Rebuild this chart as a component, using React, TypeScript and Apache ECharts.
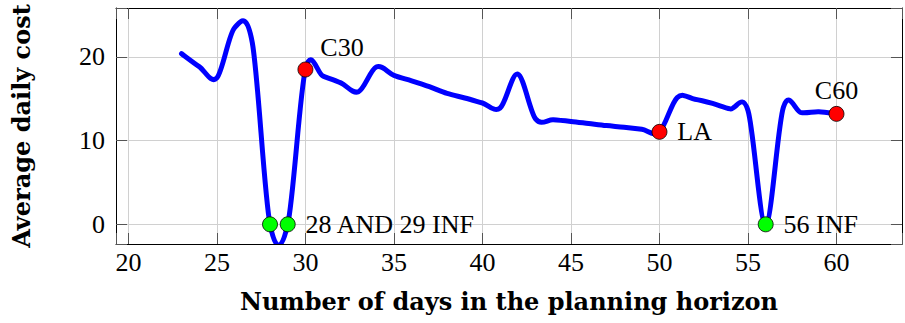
import React, { useEffect, useRef } from "react";
import * as echarts from "echarts";

// Days of the planning horizon and the plotted average daily cost
const days = [
  23, 24, 25, 26, 27, 28, 29, 30, 31, 32, 33, 34, 35, 36, 37, 38, 39, 40, 41,
  42, 43, 44, 45, 46, 47, 48, 49, 50, 51, 52, 53, 54, 55, 56, 57, 58, 59, 60,
];
const costs = [
  20.4, 18.85, 17.5, 23.5, 21.7, 0, 0, 18.5, 17.7, 16.9, 15.85, 18.8, 17.8,
  17.15, 16.45, 15.65, 15.1, 14.5, 13.9, 17.95, 12.6, 12.5, 12.3, 12.05, 11.8,
  11.6, 11.35, 11.05, 15.15, 14.95, 14.45, 13.8, 13.6, 0, 14.0, 13.35, 13.45,
  13.2,
];

// Highlighted points
const markerDays = [28, 29, 30, 50, 56, 60];
const markerLabels = ["", "28 AND 29 INF", "C30", "LA", "56 INF", "C60"];
const markerInfeasible = [true, true, false, false, true, false];

// Tick labels
const xTicks = [20, 25, 30, 35, 40, 45, 50, 55, 60];
const yTicks = [0, 10, 20];

const xTitle = "Number of days in the planning horizon";
const yTitle = "Average daily cost";

const SERIF = '"Liberation Serif", "Times New Roman", serif';
const BOLD_SERIF = '"DejaVu Serif", serif';

const X_MIN = 19.3;
const X_MAX = 63.7;
const Y_MIN = -2.35;
const Y_MAX = 25.85;

const TENSION = 0.165;

function tickFormatter(list: number[]) {
  return (v: number) =>
    list.some((t) => Math.abs(t - v) < 1e-6) ? String(Math.round(v)) : "";
}

function labelFor(name: string): any {
  if (name === "C30") return { position: "right", distance: 7, offset: [0, -22] };
  if (name === "C60") return { position: "top", distance: 2 };
  return { position: "right", distance: 10 };
}

export default function App() {
  const ref = useRef<HTMLDivElement>(null);

  useEffect(() => {
    if (!ref.current) return;
    const chart = echarts.init(ref.current, null, { renderer: "svg" });

    const axisLine = {
      show: true,
      onZero: false,
      lineStyle: { color: "#000", width: 1 },
    };
    const axisTick = {
      show: true,
      inside: true,
      length: 11,
      lineStyle: { color: "#555", width: 1 },
    };
    const splitLine = { show: true, lineStyle: { color: "#d0d0d0", width: 1 } };

    const option: any = {
      animation: false,
      backgroundColor: "#fff",
      grid: { left: 116, right: 2, top: 8, bottom: 79, containLabel: false },
      xAxis: [
        {
          type: "value",
          position: "bottom",
          min: X_MIN,
          max: X_MAX,
          splitNumber: 9,
          minInterval: 5,
          maxInterval: 5,
          axisLine,
          axisTick,
          splitLine,
          axisLabel: {
            formatter: tickFormatter(xTicks),
            fontFamily: SERIF,
            fontSize: 26,
            color: "#000",
            margin: 5,
          },
          name: xTitle,
          nameLocation: "middle",
          nameGap: 45,
          nameTextStyle: {
            fontFamily: BOLD_SERIF,
            fontWeight: "bold",
            fontSize: 24,
            color: "#000",
          },
        },
        {
          type: "value",
          position: "top",
          min: X_MIN,
          max: X_MAX,
          splitNumber: 9,
          minInterval: 5,
          maxInterval: 5,
          axisLine,
          axisTick,
          splitLine: { show: false },
          axisLabel: { show: false },
        },
      ],
      yAxis: [
        {
          type: "value",
          position: "left",
          min: Y_MIN,
          max: Y_MAX,
          splitNumber: 3,
          minInterval: 10,
          maxInterval: 10,
          axisLine,
          axisTick,
          splitLine,
          axisLabel: {
            formatter: tickFormatter(yTicks),
            fontFamily: SERIF,
            fontSize: 26,
            color: "#000",
            margin: 11,
          },
          name: yTitle,
          nameLocation: "middle",
          nameGap: 83,
          nameTextStyle: {
            fontFamily: BOLD_SERIF,
            fontWeight: "bold",
            fontSize: 24,
            color: "#000",
          },
        },
        {
          type: "value",
          position: "right",
          min: Y_MIN,
          max: Y_MAX,
          splitNumber: 3,
          minInterval: 10,
          maxInterval: 10,
          axisLine,
          axisTick,
          splitLine: { show: false },
          axisLabel: { show: false },
        },
      ],
      series: [
        {
          type: "custom",
          xAxisIndex: 0,
          yAxisIndex: 0,
          silent: true,
          z: 2,
          data: days.map((d, i) => [d, costs[i]]),
          renderItem: (params: any, api: any) => {
            if (params.dataIndex !== 0) return null;
            const pts = days.map((d, i) => api.coord([d, costs[i]]));
            const n = pts.length;
            let d = `M${pts[0][0]},${pts[0][1]}`;
            for (let i = 0; i < n - 1; i++) {
              const p0 = pts[Math.max(i - 1, 0)];
              const p1 = pts[i];
              const p2 = pts[i + 1];
              const p3 = pts[Math.min(i + 2, n - 1)];
              const c1x = p1[0] + TENSION * (p2[0] - p0[0]);
              const c1y = p1[1] + TENSION * (p2[1] - p0[1]);
              const c2x = p2[0] - TENSION * (p3[0] - p1[0]);
              const c2y = p2[1] - TENSION * (p3[1] - p1[1]);
              d += ` C${c1x},${c1y} ${c2x},${c2y} ${p2[0]},${p2[1]}`;
            }
            const cs = params.coordSys;
            return {
              type: "group",
              clipPath: {
                type: "rect",
                shape: { x: cs.x, y: cs.y, width: cs.width, height: cs.height },
              },
              children: [
                {
                  type: "path",
                  shape: { pathData: d },
                  style: {
                    fill: "none",
                    stroke: "#0000ff",
                    lineWidth: 5,
                    lineJoin: "round",
                    lineCap: "round",
                  },
                },
              ],
            };
          },
        },
        {
          type: "scatter",
          xAxisIndex: 0,
          yAxisIndex: 0,
          z: 3,
          symbol: "circle",
          symbolSize: 15,
          itemStyle: { borderColor: "#000", borderWidth: 0.8, opacity: 1 },
          emphasis: { disabled: true },
          label: {
            show: true,
            fontFamily: SERIF,
            fontSize: 26,
            color: "#000",
            opacity: 1,
            formatter: (p: any) => markerLabels[p.dataIndex],
          },
          data: markerDays.map((day, i) => ({
            value: [day, costs[days.indexOf(day)]],
            itemStyle: {
              color: markerInfeasible[i] ? "#00ff00" : "#ff0000",
              opacity: 1,
            },
            label: labelFor(markerLabels[i]),
          })),
        },
      ],
    };

    chart.setOption(option);
    return () => chart.dispose();
  }, []);

  return (
    <div
      ref={ref}
      style={{ position: "fixed", left: 0, top: 0, width: 905, height: 323 }}
    />
  );
}
